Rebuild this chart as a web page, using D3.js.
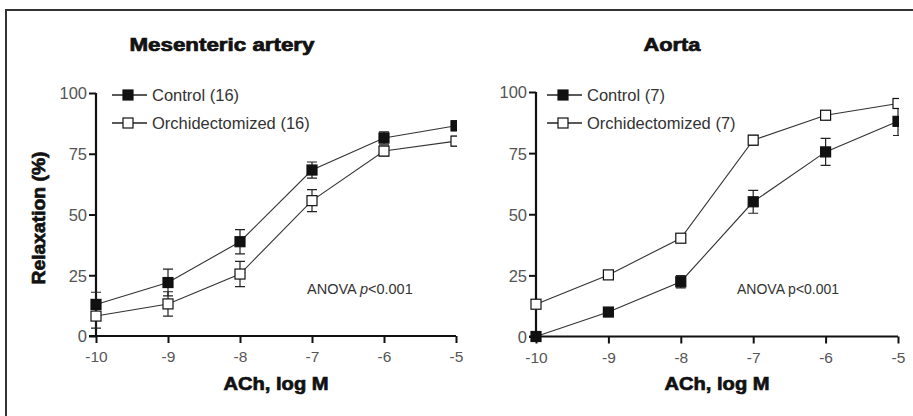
<!DOCTYPE html>
<html>
<head>
<meta charset="utf-8">
<script src="https://cdn.jsdelivr.net/npm/d3@7"></script>
<style>
  body { margin:0; background:#fff; }
  svg { display:block; }
  .tick text { font-family:"Liberation Sans", Arial, sans-serif; fill:#555; }
</style>
</head>
<body>
<svg id="chart"></svg>
<script>

// ACh concentrations (log M)
var doses = [-10, -9, -8, -7, -6, -5];
var yTicks = [0, 25, 50, 75, 100];

// Mesenteric artery, mean and SEM
var mesControl    = [13, 22, 38.8, 68.3, 81.5, 86.5];
var mesControlErr = [5, 5.5, 5, 3.3, 2.5, 2];
var mesOrch       = [8.2, 13.2, 25.5, 55.7, 76.1, 80.2];
var mesOrchErr    = [5, 5, 5.2, 4.5, 2, 2];

// Aorta, mean and SEM
var aoControl    = [0, 10, 22.4, 55.1, 75.5, 88];
var aoControlErr = [0.5, 1, 2.5, 4.7, 5.5, 5.8];
var aoOrch       = [13.2, 25.2, 40.2, 80.3, 90.5, 95.3];
var aoOrchErr    = [1, 1, 1.5, 2, 1.8, 1];

var titles = ["Mesenteric artery", "Aorta"];
var legendLabels = [["Control (16)", "Orchidectomized (16)"],
                    ["Control (7)", "Orchidectomized (7)"]];

var screen = {width:913, height:416};

var panels = [
    {left:96, right:456, top:93, bottom:336, title:titles[0], titleX:222,
     legend:legendLabels[0], legX:112,
     control:mesControl, controlErr:mesControlErr, orch:mesOrch, orchErr:mesOrchErr,
     anova:{x:307, italic:true, size:14.5}},
    {left:536, right:898, top:92, bottom:336.5, title:titles[1], titleX:672,
     legend:legendLabels[1], legX:547,
     control:aoControl, controlErr:aoControlErr, orch:aoOrch, orchErr:aoOrchErr,
     anova:{x:737, italic:false, size:14}}
];

var svg = d3.select("#chart")
    .attr("width", screen.width)
    .attr("height", screen.height);

// outer frame (top and left edges only)
svg.append("path")
    .attr("d", "M6,416 L6,10 L913,10")
    .attr("fill", "none")
    .attr("stroke", "#333")
    .attr("stroke-width", 2);

var heavyText = function(sel, size, len)
{
    sel.attr("font-family", "'Liberation Sans', Arial, sans-serif")
        .attr("font-weight", "bold")
        .attr("font-size", size)
        .attr("fill", "#111")
        .attr("stroke", "#111")
        .attr("stroke-width", 0.7)
        .attr("textLength", len)
        .attr("lengthAdjust", "spacingAndGlyphs");
    return sel;
}

var drawPanel = function(p, i)
{
    var xScale = d3.scaleLinear()
        .domain([-10, -5])
        .range([p.left, p.right]);

    var yScale = d3.scaleLinear()
        .domain([0, 100])
        .range([p.bottom, p.top]);

    var g = svg.append("g").classed("panel", true);

    // title
    g.append("text")
        .attr("x", p.titleX)
        .attr("y", 51)
        .attr("text-anchor", "middle")
        .call(heavyText, 18, i == 0 ? 185 : 57)
        .text(p.title);

    // axis titles
    g.append("text")
        .attr("x", (p.left + p.right) / 2)
        .attr("y", 390)
        .attr("text-anchor", "middle")
        .call(heavyText, 18.5, 105)
        .text("ACh, log M");

    if (i == 0)
    {
        g.append("text")
            .attr("transform", "translate(45,218) rotate(-90)")
            .attr("text-anchor", "middle")
            .call(heavyText, 18.5, 133)
            .text("Relaxation (%)");
    }

    // axes
    var xAxis = d3.axisBottom(xScale)
        .tickValues(doses)
        .tickSize(7)
        .tickPadding(8)
        .tickFormat(function(d) { return String(d); });
    var yAxis = d3.axisLeft(yScale)
        .tickValues(yTicks)
        .tickSize(7)
        .tickPadding(2);

    var gx = g.append("g")
        .attr("transform", "translate(0," + p.bottom + ")")
        .call(xAxis);
    gx.select(".domain").attr("d", "M" + (p.left - 7) + ",0H" + p.right);

    var gy = g.append("g")
        .attr("transform", "translate(" + p.left + ",0)")
        .call(yAxis);
    gy.select(".domain").attr("d", "M0," + p.top + "V" + p.bottom);

    g.selectAll(".domain").attr("stroke", "#111").attr("stroke-width", 2.2);
    g.selectAll(".tick line").attr("stroke", "#111").attr("stroke-width", 2);
    gx.selectAll(".tick text").attr("font-size", 15.5);
    gy.selectAll(".tick text").attr("font-size", 16.5).attr("dy", "0.36em");

    // clipped plotting area
    var clipId = "clip" + i;
    svg.append("clipPath").attr("id", clipId)
        .append("rect")
        .attr("x", p.left - 20).attr("y", 0)
        .attr("width", p.right - p.left + 21).attr("height", screen.height);

    var plot = g.append("g").attr("clip-path", "url(#" + clipId + ")");

    var series = [
        {values:p.control, errs:p.controlErr, fill:"#111"},
        {values:p.orch, errs:p.orchErr, fill:"#fff"}
    ];

    var line = d3.line()
        .x(function(d, j) { return xScale(doses[j]); })
        .y(function(d) { return yScale(d); });

    series.forEach(function(s)
    {
        plot.append("path")
            .datum(s.values)
            .attr("d", line)
            .attr("fill", "none")
            .attr("stroke", "#333")
            .attr("stroke-width", 1.1);
    });

    series.forEach(function(s)
    {
        plot.append("g")
            .selectAll("path")
            .data(s.values)
            .enter()
            .append("path")
            .attr("d", function(d, j)
            {
                var x = xScale(doses[j]);
                var y0 = yScale(d - s.errs[j]);
                var y1 = yScale(d + s.errs[j]);
                return "M" + x + "," + y0 + "V" + y1 +
                    "M" + (x - 5) + "," + y0 + "H" + (x + 5) +
                    "M" + (x - 5) + "," + y1 + "H" + (x + 5);
            })
            .attr("fill", "none")
            .attr("stroke", "#222")
            .attr("stroke-width", 1.2);
    });

    series.forEach(function(s)
    {
        plot.append("g")
            .selectAll("rect")
            .data(s.values)
            .enter()
            .append("rect")
            .attr("x", function(d, j) { return xScale(doses[j]) - 5; })
            .attr("y", function(d) { return yScale(d) - 5; })
            .attr("width", 10)
            .attr("height", 10)
            .attr("fill", s.fill)
            .attr("stroke", "#111")
            .attr("stroke-width", 1.2);
    });

    // legend
    var legY = [95, 123];
    var leg = g.append("g");
    series.forEach(function(s, k)
    {
        leg.append("line")
            .attr("x1", p.legX).attr("x2", p.legX + 35)
            .attr("y1", legY[k]).attr("y2", legY[k])
            .attr("stroke", "#222").attr("stroke-width", 1.4);
        leg.append("rect")
            .attr("x", p.legX + 11).attr("y", legY[k] - 5)
            .attr("width", 10).attr("height", 10)
            .attr("fill", s.fill)
            .attr("stroke", "#111").attr("stroke-width", 1.2);
        leg.append("text")
            .attr("x", p.legX + 40)
            .attr("y", legY[k] + 6)
            .attr("font-family", "'Liberation Sans', Arial, sans-serif")
            .attr("font-size", 16.5)
            .attr("fill", "#333")
            .text(p.legend[k]);
    });

    // ANOVA note
    var note = g.append("text")
        .attr("x", p.anova.x)
        .attr("y", 294)
        .attr("font-family", "'Liberation Sans', Arial, sans-serif")
        .attr("font-size", p.anova.size)
        .attr("fill", "#333");
    note.append("tspan").text("ANOVA ");
    note.append("tspan").attr("font-style", p.anova.italic ? "italic" : "normal").text("p");
    note.append("tspan").text("<0.001");
};

panels.forEach(drawPanel);

</script>
</body>
</html>
